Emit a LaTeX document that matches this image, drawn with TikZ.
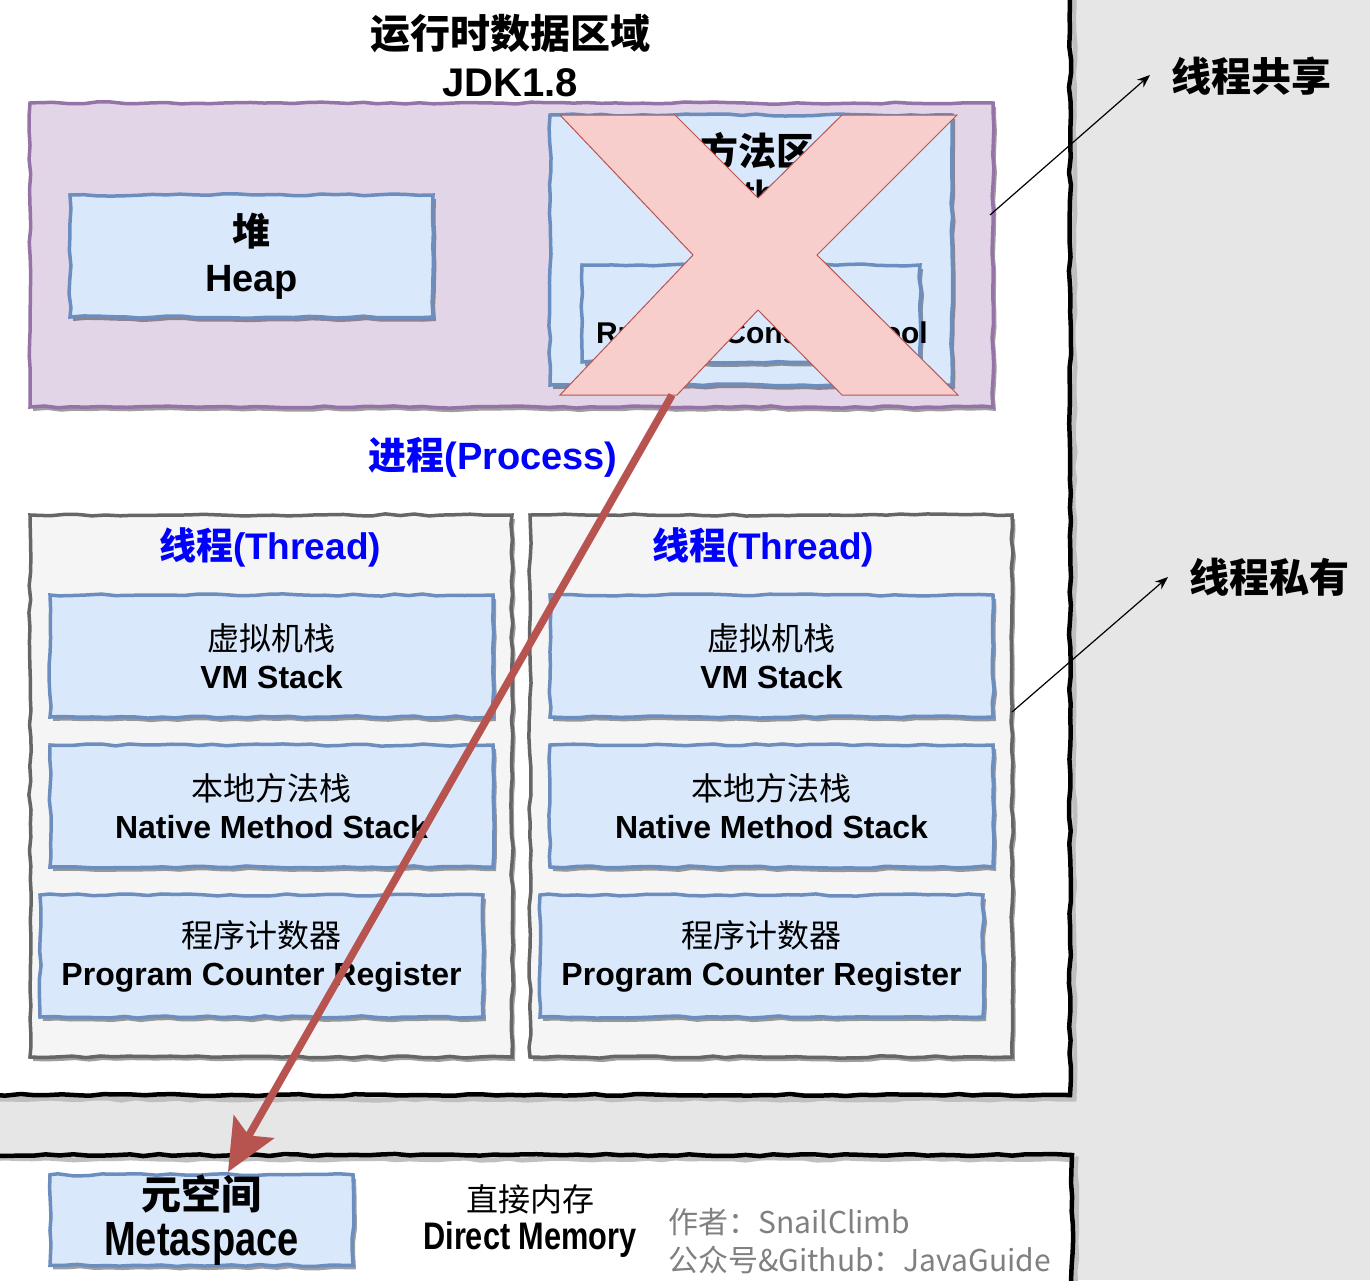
\documentclass[tikz,border=0pt]{standalone}
\usepackage{fontspec}
\setmainfont{Liberation Sans}
\newfontfamily\cjk{Noto Sans CJK SC}
\usetikzlibrary{arrows.meta,decorations.pathmorphing,shadows,calc}
\definecolor{bggray}{HTML}{E6E6E6}
\definecolor{pfill}{HTML}{E1D5E7}
\definecolor{pline}{HTML}{9673A6}
\definecolor{bfill}{HTML}{DAE8FC}
\definecolor{bline}{HTML}{6C8EBF}
\definecolor{gfill}{HTML}{F5F5F5}
\definecolor{gline}{HTML}{666666}
\definecolor{xfill}{HTML}{F8CECC}
\definecolor{xline}{HTML}{B85450}
\definecolor{procblue}{HTML}{0000FF}
\definecolor{authgray}{HTML}{808080}
\begin{document}
\begin{tikzpicture}[x=1pt,y=-1pt,
  sketch/.style={decoration={random steps,segment length=14pt,amplitude=1.1pt},decorate},
  shade/.style={drop shadow={shadow xshift=3pt,shadow yshift=-4pt,fill=black,opacity=0.38}},
  bluebox/.style={sketch,shade,draw=bline,fill=bfill,line width=3.5pt,inner sep=0pt,align=center},
  purplebox/.style={sketch,shade,draw=pline,fill=pfill,line width=3.5pt,inner sep=0pt},
  graybox/.style={sketch,shade,draw=gline,fill=gfill,line width=3.5pt,inner sep=0pt},
  lbl/.style={align=center,inner sep=0pt,font=\fontsize{32}{38}\selectfont\bfseries},
  pointer/.style={draw=black,line width=1.2pt,-{Stealth[length=13pt,width=10pt]}},
]
\pgfmathsetseed{7}
\useasboundingbox (0,0) rectangle (1370,1280);
\fill[bggray] (0,0) rectangle (1370,1280);
% white regions
\fill[white] (-10,-10) rectangle (1070,1095);
\fill[white] (-10,1155) rectangle (1072,1290);
% borders with soft shade
\draw[sketch,line width=5pt,black!25] (1074,-10) -- (1074,1099) -- (-10,1099);
\draw[sketch,line width=4.5pt,black] (1070,-10) -- (1070,1095) -- (-10,1095);
\draw[sketch,line width=5pt,black!25] (-10,1159) -- (1076,1159) -- (1076,1290);
\draw[sketch,line width=4.5pt,black] (-10,1155) -- (1072,1155) -- (1072,1290);

% title
\node[align=center,inner sep=0pt,font=\fontsize{40}{48}\selectfont\bfseries] (title) at (510,56) {{\cjk 运行时数据区域}\\JDK1.8};

% shared area
\node[purplebox,minimum width=963pt,minimum height=304pt] (shared) at (511.5,255) {};
\node[bluebox,minimum width=363pt,minimum height=122pt,font=\fontsize{38}{46}\selectfont\bfseries] (heap) at (251.5,256) {{\cjk 堆}\\Heap};
\node[bluebox,minimum width=402pt,minimum height=270pt] (ma) at (751,250) {};
\node[lbl,font=\fontsize{38}{42}\selectfont\bfseries] (matext) at (757,170) {{\cjk 方法区}\\Method};
\node[bluebox,minimum width=338pt,minimum height=97pt] (rcp) at (751,313.5) {};
\node[lbl,font=\fontsize{30}{36}\selectfont\bfseries] (rcptext) at (762,333) {Runtime Constant Pool};
% cross
\filldraw[fill=xfill,draw=xline,line width=1pt] (560,115) -- (675,115) -- (758,198) -- (842,115) -- (957,115) -- (817,255) -- (958,395) -- (842,395) -- (758,310) -- (677,395) -- (560,395) -- (693,255) -- cycle;
\coordinate (xbot) at (672,395);

% process label
\node[inner sep=0pt,font=\fontsize{38}{42}\selectfont\bfseries,text=procblue] (proc) at (493,457) {{\cjk 进程}(Process)};

% threads
\node[graybox,minimum width=482pt,minimum height=542pt] (t1) at (271,786) {};
\node[graybox,minimum width=482pt,minimum height=542pt] (t2) at (771,786) {};
\node[inner sep=0pt,font=\fontsize{37}{42}\selectfont\bfseries,text=procblue] (t1l) at (270,547) {{\cjk 线程}(Thread)};
\node[inner sep=0pt,font=\fontsize{37}{42}\selectfont\bfseries,text=procblue] (t2l) at (763,547) {{\cjk 线程}(Thread)};

\node[bluebox,minimum width=443pt,minimum height=122pt,font=\fontsize{32}{38}\selectfont\bfseries] (vm1) at (271.5,656) {{\cjk\mdseries 虚拟机栈}\\VM Stack};
\node[bluebox,minimum width=443pt,minimum height=122pt,font=\fontsize{32}{38}\selectfont\bfseries] (vm2) at (771.5,656) {{\cjk\mdseries 虚拟机栈}\\VM Stack};
\node[bluebox,minimum width=443pt,minimum height=122pt,font=\fontsize{32}{38}\selectfont\bfseries] (ns1) at (271.5,806) {{\cjk\mdseries 本地方法栈}\\Native Method Stack};
\node[bluebox,minimum width=443pt,minimum height=122pt,font=\fontsize{32}{38}\selectfont\bfseries] (ns2) at (771.5,806) {{\cjk\mdseries 本地方法栈}\\Native Method Stack};
\node[bluebox,minimum width=443pt,minimum height=122pt,font=\fontsize{32}{38}\selectfont\bfseries] (pc1) at (261.5,956) {{\cjk\mdseries 程序计数器}\\Program Counter Register};
\node[bluebox,minimum width=443pt,minimum height=122pt,font=\fontsize{32}{38}\selectfont\bfseries] (pc2) at (761.5,956) {{\cjk\mdseries 程序计数器}\\Program Counter Register};

% bottom strip
\node[bluebox,minimum width=303pt,minimum height=90pt,font=\fontsize{40}{46}\selectfont\bfseries] (meta) at (201.5,1220) {{\cjk 元空间}\\\scalebox{0.95}[1.2]{Metaspace}};
\node[align=center,inner sep=0pt,font=\fontsize{32}{38}\selectfont\bfseries] (dm) at (530,1221) {{\cjk\mdseries 直接内存}\\\scalebox{0.96}[1.2]{Direct Memory}};
\node[anchor=west,align=left,inner sep=0pt,font=\cjk\fontsize{30}{38}\selectfont,text=authgray] (auth) at (668,1241) {作者：SnailClimb\\公众号\&Github：JavaGuide};

% right labels
\node[inner sep=0pt,font=\cjk\fontsize{40}{44}\selectfont\bfseries] (sharedl) at (1251,76) {线程共享};
\node[inner sep=0pt,font=\cjk\fontsize{40}{44}\selectfont\bfseries] (privl) at (1269,577) {线程私有};
\coordinate (s1) at (990,215);
\coordinate (e1) at (1150,75);
\coordinate (s2) at (1012,712);
\coordinate (e2) at (1168,577);
\draw[pointer] (s1) -- (e1);
\draw[pointer] (s2) -- (e2);

% red arrow
\coordinate (metatip) at (228,1172);
\draw[draw=xline,line width=7.5pt,-{Stealth[length=52pt,width=46pt,inset=10pt]}] (xbot) -- (metatip);
\end{tikzpicture}
\end{document}
